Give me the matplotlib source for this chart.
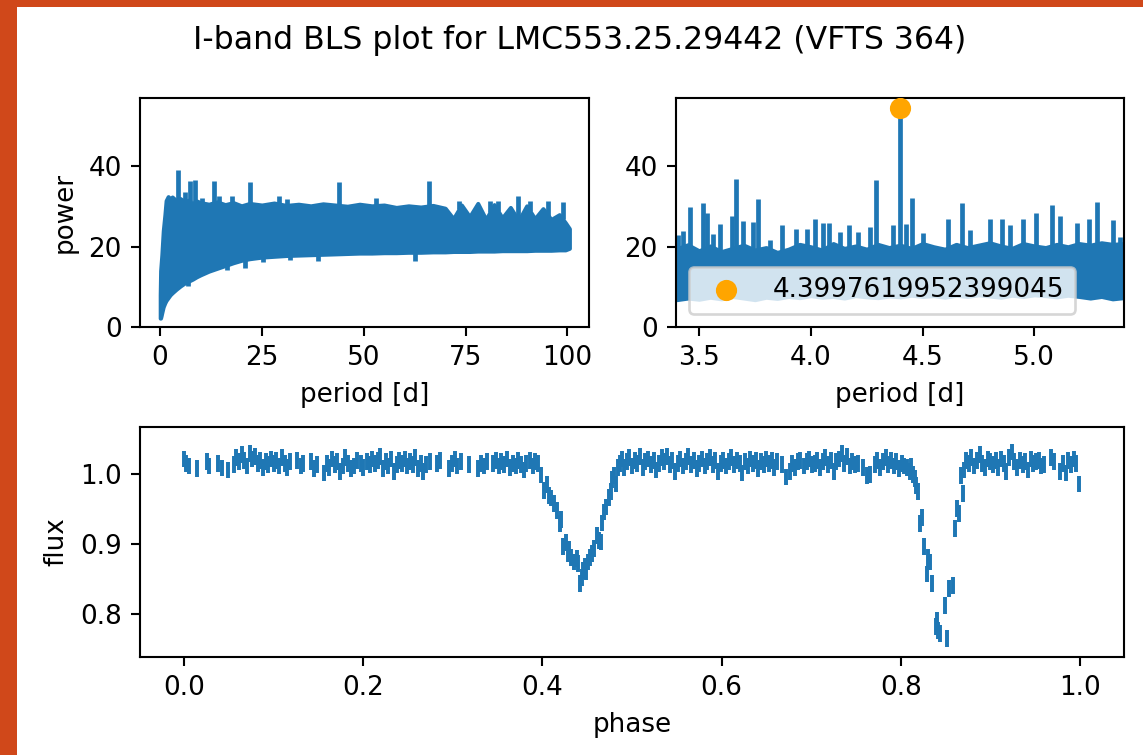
import numpy as np
import matplotlib.pyplot as plt
from matplotlib.patches import Rectangle

# Periodogram over the full range: band envelope
left_period = [0.05, 0.15, 0.3, 0.45, 0.8, 1.2, 1.5, 2.0, 2.5, 3.0,
               4, 5, 6, 7, 8, 9, 10, 12, 14, 16,
               18, 20, 22, 25, 28, 31, 34, 37, 40, 43,
               46, 49, 52, 55, 58, 61, 64, 67, 70, 72,
               74, 76, 78, 80, 82, 84, 86, 88, 90, 92,
               94, 96, 98, 99.5, 100.5]
left_upper = [8, 14, 16, 18, 24, 28, 31.5, 32.5, 31.8, 32.4,
              31.5, 32.0, 31.2, 31.6, 30.8, 31.4, 31.0, 30.6, 31.2, 30.5,
              31.0, 30.2, 30.8, 30.4, 30.9, 30.3, 30.6, 30.2, 30.7, 30.4,
              30.1, 30.6, 30.2, 30.4, 29.8, 30.2, 29.9, 30.3, 29.6, 27.0,
              30.4, 27.5, 30.8, 26.8, 30.5, 27.2, 29.8, 26.5, 30.2, 27.0,
              29.5, 26.8, 28.0, 26.0, 24.5]
left_lower = [2.2, 2.2, 2.8, 3.5, 5.0, 6.0, 6.6, 7.3, 8.0, 8.5,
              9.4, 10.2, 10.9, 11.4, 11.9, 12.5, 13.0, 13.9, 14.6, 15.3,
              16.0, 16.6, 17.0, 17.4, 17.6, 17.8, 17.9, 18.0, 18.1, 18.2,
              18.3, 18.4, 18.4, 18.5, 18.5, 18.6, 18.6, 18.7, 18.7, 18.8,
              18.8, 18.8, 18.9, 18.9, 18.9, 19.0, 19.0, 19.0, 19.0, 19.1,
              19.1, 19.1, 19.2, 19.2, 19.6]
left_spike_period = [4.5, 6.1, 7.4, 8.7, 10.2, 13.2, 14.6, 17.6, 22.1, 29.3, 31.1,
                     44.0, 53.1, 66.0, 73.4, 81.0, 83.0, 87.9, 90.8, 95.3, 98.9]
left_spike_power = [39.0, 33.6, 36.4, 36.5, 32.2, 36.4, 32.6, 32.6, 36.1, 32.6, 32.0,
                    36.1, 32.2, 36.4, 31.4, 31.5, 31.3, 32.6, 31.5, 31.5, 31.2]
left_dip_period = [7.0, 16.4, 20.9, 25.3, 31.9, 38.8, 62.5]
left_dip_power = [10.1, 14.2, 14.6, 16.3, 16.7, 16.5, 16.5]

# Zoomed periodogram around the best period
right_period = [3.40, 3.45, 3.50, 3.55, 3.60, 3.65, 3.70, 3.75, 3.80, 3.85,
                3.90, 3.95, 4.00, 4.05, 4.10, 4.15, 4.20, 4.25, 4.30, 4.35,
                4.40, 4.45, 4.50, 4.55, 4.60, 4.65, 4.70, 4.75, 4.80, 4.85,
                4.90, 4.95, 5.00, 5.05, 5.10, 5.15, 5.20, 5.25, 5.30, 5.35, 5.40]
right_upper = [19.5, 20.5, 19.0, 20.2, 18.8, 19.6, 20.4, 19.2, 19.8, 18.6,
               19.4, 20.6, 20.0, 19.2, 20.8, 19.6, 20.2, 19.4, 20.6, 19.8,
               20.4, 19.6, 20.8, 20.0, 19.4, 20.6, 19.8, 20.4, 21.0, 20.2,
               19.6, 20.8, 20.2, 19.8, 20.6, 20.0, 20.8, 20.4, 21.0, 20.6, 20.8]
right_lower = [6.8, 7.2, 6.9, 7.4, 7.0, 7.6, 7.2, 6.8, 7.4, 7.1,
               7.6, 7.3, 7.8, 7.4, 7.6, 7.2, 7.8, 7.5, 7.3, 7.7,
               7.5, 7.9, 7.6, 7.8, 7.4, 7.9, 7.6, 8.0, 7.7, 7.4,
               7.9, 7.6, 8.0, 7.8, 7.5, 7.9, 7.6, 7.2, 7.6, 7.0, 7.3]
right_spike_period = [3.408, 3.430, 3.460, 3.516, 3.537, 3.564, 3.594, 3.646, 3.664, 3.698,
                      3.740, 3.765, 3.818, 3.873, 3.934, 3.984, 4.019, 4.056, 4.083, 4.131,
                      4.172, 4.213, 4.265, 4.290, 4.369, 4.39976, 4.426, 4.451, 4.503, 4.612,
                      4.675, 4.712, 4.801, 4.854, 4.891, 4.948, 5.006, 5.080, 5.114, 5.192,
                      5.244, 5.281, 5.353, 5.383]
right_spike_power = [22.9, 24.0, 29.8, 31.0, 28.4, 23.2, 25.6, 27.6, 36.9, 26.3,
                     26.1, 32.0, 21.7, 25.5, 24.3, 24.5, 26.8, 25.9, 25.9, 23.7,
                     25.4, 23.7, 25.0, 36.7, 25.5, 54.6, 25.6, 32.2, 23.3, 27.0,
                     30.9, 24.1, 26.9, 26.8, 25.5, 26.8, 28.4, 30.3, 27.6, 26.0,
                     27.0, 31.2, 26.6, 22.5]

best_period = 4.3997619952399045
best_power = 54.6

# Phase-folded light curve
phase = [0.000, 0.002, 0.005, 0.014, 0.025, 0.028, 0.038, 0.042, 0.049, 0.055,
         0.058, 0.061, 0.064, 0.067, 0.070, 0.073, 0.076, 0.079, 0.082, 0.085,
         0.088, 0.091, 0.094, 0.097, 0.100, 0.103, 0.106, 0.109, 0.112, 0.115,
         0.118, 0.126, 0.130, 0.133, 0.141, 0.145, 0.148, 0.156, 0.159, 0.162,
         0.165, 0.168, 0.171, 0.174, 0.177, 0.180, 0.183, 0.186, 0.189, 0.193,
         0.197, 0.200, 0.204, 0.207, 0.210, 0.213, 0.216, 0.219, 0.222, 0.225,
         0.228, 0.231, 0.234, 0.237, 0.240, 0.243, 0.246, 0.249, 0.252, 0.255,
         0.258, 0.261, 0.264, 0.267, 0.270, 0.274, 0.282, 0.286, 0.296, 0.299,
         0.302, 0.305, 0.309, 0.318, 0.328, 0.331, 0.335, 0.338, 0.345, 0.348,
         0.351, 0.354, 0.357, 0.360, 0.364, 0.367, 0.370, 0.373, 0.376, 0.379,
         0.382, 0.386, 0.389, 0.392,
         0.395, 0.398, 0.402, 0.405, 0.407, 0.410, 0.413, 0.416, 0.419, 0.421,
         0.423, 0.426, 0.428, 0.430, 0.432, 0.435, 0.438, 0.440, 0.442, 0.444,
         0.445, 0.447, 0.449, 0.451, 0.453, 0.455, 0.458, 0.461, 0.463, 0.465,
         0.467, 0.469, 0.471, 0.474, 0.476, 0.478, 0.480, 0.482, 0.484, 0.486,
         0.489, 0.491,
         0.494, 0.497, 0.500, 0.503, 0.506, 0.509, 0.512, 0.515, 0.518, 0.521,
         0.524, 0.527, 0.530, 0.533, 0.536, 0.539, 0.542, 0.545, 0.548, 0.551,
         0.554, 0.557, 0.560, 0.563, 0.566, 0.569, 0.572, 0.575, 0.578, 0.581,
         0.584, 0.587, 0.590, 0.593, 0.596, 0.599, 0.602, 0.605, 0.608, 0.611,
         0.614, 0.617, 0.620, 0.623, 0.626, 0.629, 0.632, 0.635, 0.638, 0.641,
         0.644, 0.647, 0.650, 0.653, 0.656, 0.659, 0.662, 0.667, 0.672, 0.676,
         0.679, 0.682, 0.685, 0.688, 0.692, 0.695, 0.698, 0.701, 0.704, 0.707,
         0.710, 0.713, 0.716, 0.719, 0.722, 0.725, 0.728, 0.731, 0.734, 0.737,
         0.740, 0.743, 0.746, 0.749, 0.752, 0.758, 0.762, 0.766, 0.771, 0.774,
         0.777, 0.780, 0.783, 0.786, 0.789, 0.792, 0.795, 0.798, 0.801, 0.804,
         0.807, 0.810,
         0.812, 0.814, 0.816, 0.817, 0.819, 0.822, 0.824, 0.826, 0.829, 0.831,
         0.833, 0.835, 0.839, 0.841, 0.842, 0.844, 0.849, 0.852, 0.854, 0.858,
         0.861, 0.863, 0.865, 0.867, 0.869, 0.871, 0.873,
         0.876, 0.879, 0.882, 0.885, 0.888, 0.891, 0.894, 0.897, 0.900, 0.903,
         0.906, 0.909, 0.912, 0.915, 0.918, 0.921, 0.924, 0.927, 0.930, 0.933,
         0.936, 0.939, 0.942, 0.945, 0.948, 0.951, 0.954, 0.957, 0.960, 0.968,
         0.971, 0.978, 0.981, 0.984, 0.987, 0.990, 0.993, 0.996, 0.999]
flux = [1.022, 1.016, 1.012, 1.008, 1.018, 1.012, 1.015, 1.009, 1.006, 1.014,
        1.024, 1.018, 1.028, 1.020, 1.012, 1.030, 1.022, 1.026, 1.016, 1.020,
        1.010, 1.018, 1.014, 1.022, 1.016, 1.020, 1.012, 1.024, 1.016, 1.010,
        1.018, 1.020, 1.012, 1.016, 1.018, 1.008, 1.014, 1.002, 1.016, 1.010,
        1.022, 1.014, 1.018, 1.004, 1.012, 1.024, 1.016, 1.008, 1.012, 1.020,
        1.016, 1.010, 1.018, 1.014, 1.022, 1.016, 1.020, 1.026, 1.008, 1.018,
        1.012, 1.022, 1.004, 1.014, 1.020, 1.016, 1.022, 1.012, 1.018, 1.014,
        1.024, 1.008, 1.016, 1.004, 1.014, 1.018, 1.016, 1.020, 1.008, 1.016,
        1.022, 1.012, 1.018, 1.014, 1.008, 1.016, 1.012, 1.018, 1.016, 1.020,
        1.012, 1.018, 1.014, 1.022, 1.010, 1.016, 1.012, 1.020, 1.014, 1.006,
        1.016, 1.020, 1.012, 1.018,
        1.015, 0.999, 0.977, 0.985, 0.970, 0.966, 0.958, 0.948, 0.929, 0.935,
        0.896, 0.902, 0.886, 0.892, 0.881, 0.874, 0.879, 0.872, 0.843, 0.852,
        0.862, 0.868, 0.860, 0.874, 0.881, 0.886, 0.893, 0.912, 0.905, 0.903,
        0.930, 0.946, 0.953, 0.967, 0.975, 0.993, 0.998, 0.986, 1.010, 1.015,
        1.022, 1.010,
        1.018, 1.024, 1.012, 1.020, 1.016, 1.026, 1.010, 1.018, 1.022, 1.014,
        1.020, 1.006, 1.016, 1.024, 1.018, 1.026, 1.014, 1.020, 1.004, 1.016,
        1.022, 1.012, 1.018, 1.026, 1.014, 1.020, 1.008, 1.016, 1.022, 1.012,
        1.018, 1.024, 1.014, 1.020, 1.004, 1.016, 1.020, 1.012, 1.018, 1.024,
        1.014, 1.020, 1.016, 1.002, 1.018, 1.012, 1.022, 1.016, 1.020, 1.008,
        1.018, 1.014, 1.022, 1.016, 1.020, 1.010, 1.018, 1.014, 0.996, 1.004,
        1.016, 1.010, 1.018, 1.020, 1.012, 1.018, 1.022, 1.014, 1.016, 1.020,
        1.010, 1.018, 1.024, 1.014, 1.020, 1.004, 1.018, 1.022, 1.030, 1.016,
        1.026, 1.012, 1.018, 1.014, 1.016, 1.010, 0.998, 1.000, 1.014, 1.020,
        1.010, 1.018, 1.024, 1.014, 1.020, 1.012, 1.018, 1.008, 1.016, 1.012,
        1.010, 1.004,
        1.012, 1.000, 0.994, 0.984, 0.975, 0.929, 0.938, 0.896, 0.857, 0.881,
        0.874, 0.843, 0.781, 0.790, 0.776, 0.771, 0.812, 0.764, 0.836, 0.840,
        0.922, 0.951, 0.944, 0.998, 0.972, 1.006, 1.020,
        1.016, 1.024, 1.012, 1.020, 1.028, 1.016, 1.010, 1.022, 1.018, 1.014,
        1.020, 1.010, 1.022, 1.016, 1.004, 1.024, 1.032, 1.018, 1.010, 1.020,
        1.014, 1.018, 1.006, 1.022, 1.016, 1.018, 1.020, 1.012, 1.014, 1.024,
        1.018, 1.004, 1.016, 1.002, 1.020, 1.014, 1.022, 1.016, 0.986]
flux_err = 0.012

COLOR = "#1f77b4"
DPI = 189

fig = plt.figure(figsize=(1143 / DPI, 755 / DPI), dpi=DPI)
fig.patch.set_facecolor("#D0481A")
# white page area inside the orange screenshot border
fig.add_artist(Rectangle((17 / 1143, 0), 1 - 17 / 1143, 1 - 7 / 755,
                         transform=fig.transFigure, facecolor="white",
                         edgecolor="none", zorder=-10))

ax1 = fig.add_axes([140 / 1143, 1 - 327 / 755, 449 / 1143, 229 / 755])
ax2 = fig.add_axes([676 / 1143, 1 - 327 / 755, 448 / 1143, 229 / 755])
ax3 = fig.add_axes([140 / 1143, 1 - 657 / 755, 984 / 1143, 230 / 755])

# full periodogram
ax1.fill_between(left_period, left_lower, left_upper, color=COLOR, lw=1.5)
ax1.vlines(left_spike_period, np.interp(left_spike_period, left_period, left_upper),
           left_spike_power, color=COLOR, lw=1.8)
ax1.vlines(left_dip_period, left_dip_power,
           np.interp(left_dip_period, left_period, left_lower), color=COLOR, lw=1.8)
ax1.set_xlim(-4.9, 105.3)
ax1.set_ylim(0, 57.05)
ax1.set_xticks([0, 25, 50, 75, 100])
ax1.set_yticks([0, 20, 40])
ax1.set_xlabel('period [d]')
ax1.set_ylabel('power')

# zoom around the best period
ax2.fill_between(right_period, right_lower, right_upper, color=COLOR, lw=1.5)
ax2.vlines(right_spike_period, np.interp(right_spike_period, right_period, right_upper),
           right_spike_power, color=COLOR, lw=1.8)
ax2.scatter([best_period], [best_power], s=50, color='orange', zorder=3,
            label=str(best_period))
ax2.set_xlim(3.397, 5.401)
ax2.set_ylim(0, 57.05)
ax2.set_xticks([3.5, 4.0, 4.5, 5.0])
ax2.set_yticks([0, 20, 40])
ax2.set_xlabel('period [d]')
ax2.legend(loc='lower left')

# folded light curve
ax3.errorbar(phase, flux, yerr=flux_err, fmt='none', ecolor=COLOR, elinewidth=1.5)
ax3.set_xlim(-0.0494, 1.0493)
ax3.set_ylim(0.7377, 1.0679)
ax3.set_xticks([0.0, 0.2, 0.4, 0.6, 0.8, 1.0])
ax3.set_yticks([0.8, 0.9, 1.0])
ax3.set_xlabel('phase')
ax3.set_ylabel('flux')

fig.suptitle('I-band BLS plot for LMC553.25.29442 (VFTS 364)', x=580 / 1143,
             y=1 - 25 / 755, va='top')

plt.savefig('out.png', dpi=DPI, facecolor=fig.get_facecolor())
